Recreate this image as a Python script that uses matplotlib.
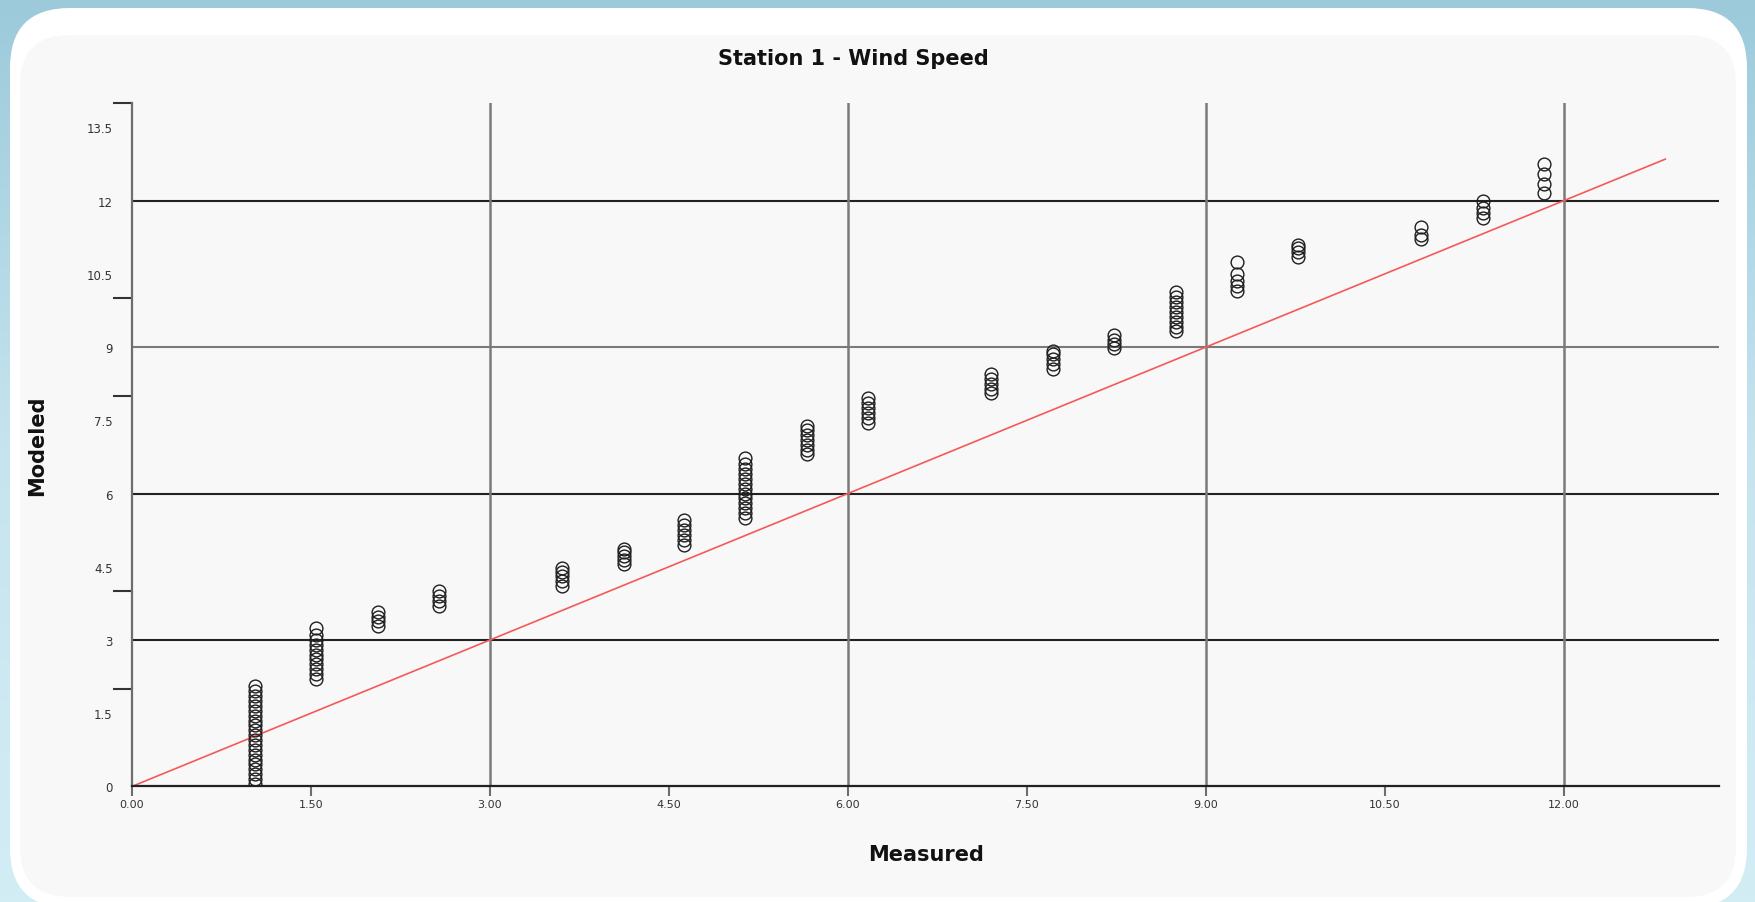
import matplotlib
matplotlib.use("Agg")
import matplotlib.pyplot as plt
import numpy as np
from matplotlib.patches import FancyBboxPatch
from matplotlib.colors import LinearSegmentedColormap

# ---------------- data ----------------
measured = [1.03, 1.54, 2.06, 2.57, 3.60, 4.12, 4.63, 5.14, 5.66, 6.17,
            7.20, 7.72, 8.23, 8.75, 9.26, 9.77, 10.80, 11.32, 11.83]

modeled = [
    [0.05, 0.15, 0.25, 0.35, 0.45, 0.55, 0.65, 0.75, 0.85, 0.95, 1.05,
     1.15, 1.25, 1.35, 1.45, 1.55, 1.65, 1.75, 1.85, 1.95, 2.05],
    [2.2, 2.3, 2.4, 2.5, 2.6, 2.7, 2.8, 2.9, 3.0, 3.1, 3.25],
    [3.28, 3.38, 3.48, 3.58],
    [3.7, 3.8, 3.9, 4.0],
    [4.1, 4.2, 4.3, 4.4, 4.48],
    [4.55, 4.63, 4.72, 4.8, 4.87],
    [4.95, 5.05, 5.15, 5.25, 5.35, 5.45],
    [5.5, 5.6, 5.7, 5.8, 5.9, 6.0, 6.1, 6.2, 6.3, 6.4, 6.5, 6.6, 6.72],
    [6.8, 6.9, 7.0, 7.1, 7.2, 7.3, 7.38],
    [7.45, 7.55, 7.65, 7.75, 7.85, 7.95],
    [8.05, 8.15, 8.25, 8.35, 8.45],
    [8.55, 8.65, 8.75, 8.85, 8.92],
    [8.98, 9.06, 9.15, 9.25],
    [9.32, 9.42, 9.52, 9.62, 9.72, 9.82, 9.92, 10.02, 10.12],
    [10.15, 10.25, 10.35, 10.5, 10.75],
    [10.85, 10.95, 11.03, 11.1],
    [11.22, 11.3, 11.45],
    [11.65, 11.75, 11.85, 12.0],
    [12.15, 12.35, 12.55, 12.75],
]

ref_line_x = [0.0, 12.85]
ref_line_y = [0.0, 12.85]

x_ticks = [0.0, 1.5, 3.0, 4.5, 6.0, 7.5, 9.0, 10.5, 12.0]
x_tick_labels = ["0.00", "1.50", "3.00", "4.50", "6.00", "7.50", "9.00", "10.50", "12.00"]
y_ticks = [0.0, 1.5, 3.0, 4.5, 6.0, 7.5, 9.0, 10.5, 12.0, 13.5]
y_tick_labels = ["0", "1.5", "3", "4.5", "6", "7.5", "9", "10.5", "12", "13.5"]
y_minor_ticks = [0, 2, 4, 6, 8, 10, 12, 14]
h_grid = [3, 6, 9, 12]
h_grid_colors = ["#222222", "#222222", "#7a7a7a", "#222222"]
v_grid = [3, 6, 9, 12]

title = "Station 1 - Wind Speed"
x_label = "Measured"
y_label = "Modeled"

# ---------------- figure ----------------
W, H = 1756, 903
fig = plt.figure(figsize=(W / 100, H / 100), dpi=100)

bg = fig.add_axes([0, 0, 1, 1])
grad = np.linspace(0, 1, 256).reshape(-1, 1)
cmap = LinearSegmentedColormap.from_list("bgc", ["#9ccadb", "#c6e4ef", "#d3edf5"])
bg.imshow(grad, extent=[0, W, H, 0], cmap=cmap, aspect="auto")
bg.add_patch(FancyBboxPatch((10, 9), 1737, 900,
                            boxstyle="round,pad=0,rounding_size=60",
                            fc="white", ec="none"))
bg.add_patch(FancyBboxPatch((20, 36), 1716, 862,
                            boxstyle="round,pad=0,rounding_size=50",
                            fc="#f8f8f8", ec="none"))
bg.set_xlim(0, W)
bg.set_ylim(H, 0)
bg.axis("off")

x0, y0 = 132, 787.4
x1, y1 = 1719, 104
ax = fig.add_axes([x0 / W, 1 - y0 / H, (x1 - x0) / W, (y0 - y1) / H])
ax.patch.set_alpha(0)
ax.set_xlim(0, 13.3)
ax.set_ylim(0, 14.0)

for s in ["top", "right"]:
    ax.spines[s].set_visible(False)
ax.spines["left"].set_color("#6e6e6e")
ax.spines["left"].set_linewidth(1.6)
ax.spines["bottom"].set_color("#222222")
ax.spines["bottom"].set_linewidth(1.6)

for yv, c in zip(h_grid, h_grid_colors):
    ax.axhline(yv, color=c, lw=1.5, zorder=1)
for xv in v_grid:
    ax.axvline(xv, color="#7a7a7a", lw=1.8, zorder=1)

ax.plot(ref_line_x, ref_line_y, color="#f25a5a", lw=1.2, zorder=2)

for xm, ys in zip(measured, modeled):
    ax.plot([xm] * len(ys), ys, linestyle="none", marker="o", ms=9.2,
            mfc="none", mec="#1e1e1e", mew=1.0, zorder=3)

ax.set_xticks(x_ticks)
ax.set_xticklabels(x_tick_labels)
ax.tick_params(axis="x", direction="out", length=7, width=1.5, color="#6e6e6e",
               labelsize=8, labelcolor="#333333", pad=2)

ax.set_yticks(y_ticks)
ax.set_yticklabels(y_tick_labels)
ax.set_yticks(y_minor_ticks, minor=True)
ax.tick_params(axis="y", which="major", length=0, labelsize=8.5,
               labelcolor="#333333", pad=14)
ax.tick_params(axis="y", which="minor", direction="out", length=14, width=1.5,
               color="#333333")

fig.text(853 / W, 1 - 59 / H, title, ha="center", va="center",
         fontsize=15, fontweight="bold", color="#111111")
fig.text(926 / W, 1 - 855 / H, x_label, ha="center", va="center",
         fontsize=15, fontweight="bold", color="#111111")
fig.text(37 / W, 1 - 446 / H, y_label, ha="center", va="center", rotation=90,
         fontsize=15, fontweight="bold", color="#111111")

fig.savefig("out.png", dpi=100)
